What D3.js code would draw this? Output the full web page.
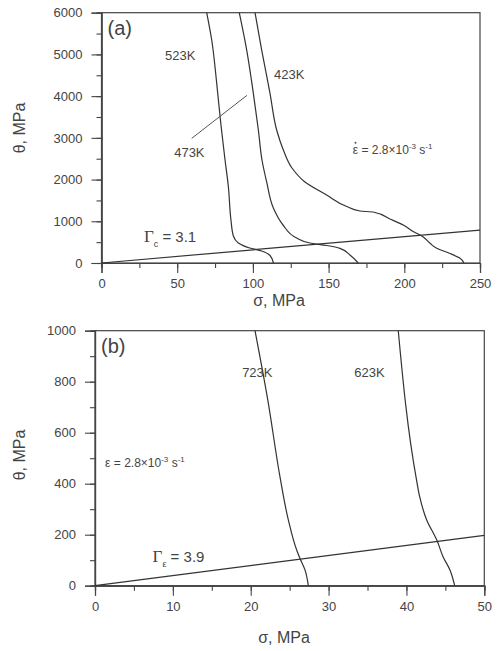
<!DOCTYPE html>
<html>
<head>
<meta charset="utf-8">
<script src="https://cdn.jsdelivr.net/npm/d3@7"></script>
<style>
  body { margin: 0; background: #fff; }
  svg { display: block; }
  text { font-family: "Liberation Sans", Arial, sans-serif; fill: #444; }
</style>
</head>
<body>
<div id="chart"></div>
<script>
// panel (a) curves: [sigma MPa, theta MPa]
const curve523K = [[69.5, 6000], [72.8, 5345], [76.1, 4307], [78.9, 3308], [81.6, 2469], [83.8, 1829],
  [85.5, 1031], [87.1, 647], [90.4, 479], [97.9, 360], [105.8, 288], [111.3, 180], [113.6, 0]];
const curve473K = [[91.0, 6000], [95.9, 5105], [100.3, 4068], [103.6, 3188], [106.0, 2469], [109.1, 1942],
  [113.5, 1318], [119.9, 911], [128.9, 599], [137.7, 479], [148.7, 419], [157.5, 352], [164.1, 192], [169.6, 0]];
const curve423K = [[101.4, 6000], [105.8, 5105], [111.3, 4068], [115.7, 3188], [120.1, 2709], [125.8, 2277],
  [134.4, 1942], [148.7, 1630], [162.0, 1354], [170.7, 1246], [179.5, 1222], [190.5, 1055], [199.3, 911],
  [205.9, 755], [212.5, 623], [217.0, 472], [221.4, 352], [230.2, 228], [236.8, 113], [239.4, 0]];
const gammaLineA = [[0, 0], [250, 790]];

// panel (b) curves
const curve723K = [[20.55, 1000], [22.2, 727], [23.76, 427], [24.83, 258], [25.9, 140], [26.33, 107],
  [26.97, 62], [27.4, 0]];
const curve623K = [[38.95, 1000], [41.3, 414], [41.7, 349], [42.6, 258], [43.9, 179], [44.7, 114],
  [45.6, 61], [46.2, 0]];
const gammaLineB = [[0, 0], [50, 197]];

// axis ticks
const xTicksA = [0, 50, 100, 150, 200, 250];
const yTicksA = [0, 1000, 2000, 3000, 4000, 5000, 6000];
const xTicksB = [0, 10, 20, 30, 40, 50];
const yTicksB = [0, 200, 400, 600, 800, 1000];

const width = 498, height = 651;
const svg = d3.select('#chart').append('svg')
  .attr('width', width).attr('height', height);

const drawPanel = (cfg) => {
  const x = d3.scaleLinear().domain(cfg.xDomain).range([cfg.left, cfg.right]);
  const y = d3.scaleLinear().domain(cfg.yDomain).range([cfg.bottom, cfg.top]);
  const g = svg.append('g');

  // frame
  g.append('rect')
    .attr('x', cfg.left).attr('y', cfg.top)
    .attr('width', cfg.right - cfg.left).attr('height', cfg.bottom - cfg.top)
    .attr('fill', 'none').attr('stroke', '#444').attr('stroke-width', 1.2);

  // minor ticks
  const xMinor = d3.range(cfg.xDomain[0], cfg.xDomain[1] + 1e-9, cfg.xMinor);
  const yMinor = d3.range(cfg.yDomain[0], cfg.yDomain[1] + 1e-9, cfg.yMinor);
  g.append('g').attr('transform', `translate(0,${cfg.bottom})`)
    .call(d3.axisBottom(x).tickValues(xMinor).tickSize(5).tickFormat(''));
  g.append('g').attr('transform', `translate(${cfg.left},0)`)
    .call(d3.axisLeft(y).tickValues(yMinor).tickSize(5).tickFormat(''));

  // major ticks
  const xAxis = g.append('g').attr('transform', `translate(0,${cfg.bottom})`)
    .call(d3.axisBottom(x).tickValues(cfg.xTicks).tickSize(10).tickPadding(6).tickFormat(d3.format('d')));
  const yAxis = g.append('g').attr('transform', `translate(${cfg.left},0)`)
    .call(d3.axisLeft(y).tickValues(cfg.yTicks).tickSize(10).tickPadding(9).tickFormat(d3.format('d')));
  [xAxis, yAxis].forEach(a => {
    a.selectAll('text').style('font-size', '13px').attr('fill', '#555');
  });
  g.selectAll('.domain').attr('stroke', '#444').attr('stroke-width', 1.2);
  g.selectAll('.tick line').attr('stroke', '#444').attr('stroke-width', 1.1);

  const line = d3.line().x(d => x(d[0])).y(d => y(d[1])).curve(d3.curveMonotoneY);
  const straight = d3.line().x(d => x(d[0])).y(d => y(d[1]));
  cfg.curves.forEach(c => {
    g.append('path').attr('d', line(c)).attr('fill', 'none')
      .attr('stroke', '#333').attr('stroke-width', 1.2);
  });
  g.append('path').attr('d', straight(cfg.gamma)).attr('fill', 'none')
    .attr('stroke', '#333').attr('stroke-width', 1.2);

  // titles
  g.append('text')
    .attr('x', cfg.xTitle[0]).attr('y', cfg.xTitle[1])
    .attr('text-anchor', 'middle').style('font-size', '16px').attr('fill', '#444')
    .text('σ, MPa');
  g.append('text')
    .attr('transform', `translate(${cfg.yTitle[0]},${cfg.yTitle[1]}) rotate(-90)`)
    .attr('text-anchor', 'middle').style('font-size', '16px').attr('fill', '#444')
    .text('θ, MPa');
  g.append('text')
    .attr('x', cfg.left + 6).attr('y', cfg.top + 22)
    .style('font-size', '20px').attr('fill', '#333')
    .text(cfg.panel);

  // curve labels
  cfg.labels.forEach(l => {
    g.append('text').attr('x', x(l[0])).attr('y', y(l[1]))
      .style('font-size', '13px').attr('fill', '#555').text(l[2]);
  });

  // strain rate note
  const nx = x(cfg.note[0]), ny = y(cfg.note[1]);
  const note = g.append('text').attr('x', nx).attr('y', ny)
    .style('font-size', '12px').attr('fill', '#555');
  note.append('tspan').text('ε = 2.8×10');
  note.append('tspan').attr('dy', -5).style('font-size', '8px').text('-3');
  note.append('tspan').attr('dy', 5).text(' s');
  note.append('tspan').attr('dy', -5).style('font-size', '8px').text('-1');
  if (cfg.noteDot) {
    const ext = note.node().getExtentOfChar(0);
    g.append('circle')
      .attr('cx', ext.x + ext.width / 2).attr('cy', ny - 11)
      .attr('r', 1).attr('fill', '#555');
  }

  // gamma label
  const gl = g.append('text').attr('x', x(cfg.gammaLabel[0])).attr('y', y(cfg.gammaLabel[1]))
    .style('font-size', '15px').attr('fill', '#444');
  gl.append('tspan').style('font-family', '"Liberation Serif", serif').style('font-size', '17px').text('Γ');
  gl.append('tspan').attr('dy', 5).style('font-size', '9px').text(cfg.gammaSub);
  gl.append('tspan').attr('dy', -5).text(' = ' + cfg.gammaValue);

  return { g, x, y };
};

const panelA = drawPanel({
  panel: '(a)', left: 101.5, right: 480, top: 12.7, bottom: 263,
  xDomain: [0, 250], yDomain: [0, 6000], xTicks: xTicksA, yTicks: yTicksA, xMinor: 25, yMinor: 500,
  curves: [curve523K, curve473K, curve423K], gamma: gammaLineA,
  xTitle: [279, 306], yTitle: [25, 128],
  labels: [[42, 4860, '523K'], [114, 4420, '423K'], [48, 2550, '473K']],
  note: [166, 2620], noteDot: true,
  gammaLabel: [28, 500], gammaSub: 'c', gammaValue: '3.1'
});
panelA.g.append('line')
  .attr('x1', panelA.x(59.6)).attr('y1', panelA.y(2988))
  .attr('x2', panelA.x(96.1)).attr('y2', panelA.y(4019))
  .attr('stroke', '#555').attr('stroke-width', 1);

drawPanel({
  panel: '(b)', left: 95, right: 484.3, top: 330.7, bottom: 585.7,
  xDomain: [0, 50], yDomain: [0, 1000], xTicks: xTicksB, yTicks: yTicksB, xMinor: 5, yMinor: 100,
  curves: [curve723K, curve623K], gamma: gammaLineB,
  xTitle: [284, 643], yTitle: [25, 455],
  labels: [[18.9, 820, '723K'], [33.3, 820, '623K']],
  note: [1.3, 465], noteDot: false,
  gammaLabel: [7.4, 92], gammaSub: 'ε', gammaValue: '3.9'
});
</script>
</body>
</html>
